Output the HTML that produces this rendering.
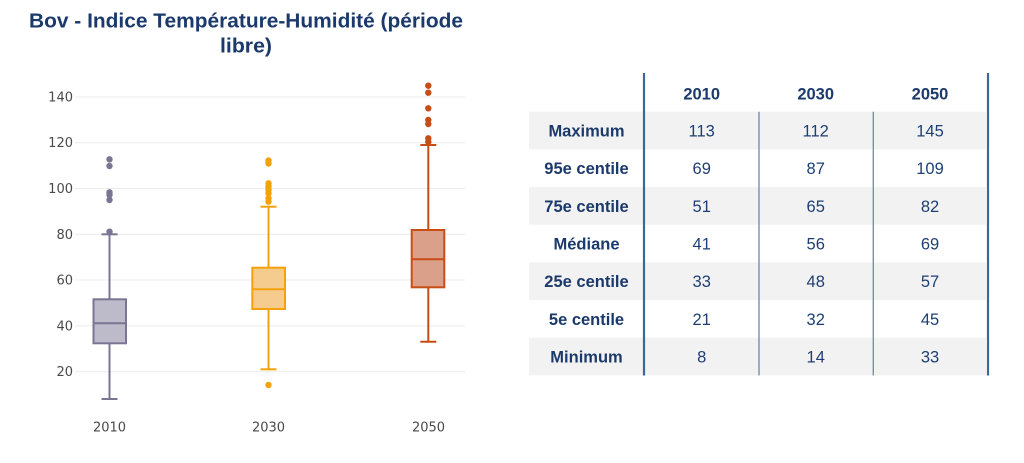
<!DOCTYPE html>
<html><head><meta charset="utf-8"><style>
html,body{margin:0;padding:0;background:#fff;}
svg{display:block;}
.t{font-family:"Liberation Sans",sans-serif;font-weight:bold;fill:#1b3a6b;}
.ax{font-family:"DejaVu Sans","Liberation Sans",sans-serif;font-size:13px;fill:#4a4a4a;}
.lb{font-family:"Liberation Sans",sans-serif;font-weight:bold;font-size:16.5px;fill:#1b3a6b;}
.vl{font-family:"Liberation Sans",sans-serif;font-size:16.5px;fill:#1e3f73;}
</style></head><body>
<svg width="1024" height="463" viewBox="0 0 1024 463" xmlns="http://www.w3.org/2000/svg">
<rect width="1024" height="463" fill="#fff"/>
<!-- Title -->
<text class="t" x="246" y="27.5" font-size="20" text-anchor="middle" textLength="434" lengthAdjust="spacingAndGlyphs">Bov - Indice Température-Humidité (période</text>
<text class="t" x="246" y="52.5" font-size="20" text-anchor="middle" textLength="52" lengthAdjust="spacingAndGlyphs">libre)</text>
<!-- gridlines -->
<g stroke="#ececec" stroke-width="1">
<line x1="75" x2="465" y1="97" y2="97"/>
<line x1="75" x2="465" y1="142.7" y2="142.7"/>
<line x1="75" x2="465" y1="188.5" y2="188.5"/>
<line x1="75" x2="465" y1="234.3" y2="234.3"/>
<line x1="75" x2="465" y1="280" y2="280"/>
<line x1="75" x2="465" y1="325.9" y2="325.9"/>
<line x1="75" x2="465" y1="371.7" y2="371.7"/>
</g>
<g class="ax" text-anchor="end">
<text x="73" y="101.5">140</text>
<text x="73" y="147.2">120</text>
<text x="73" y="193">100</text>
<text x="73" y="238.8">80</text>
<text x="73" y="284.5">60</text>
<text x="73" y="330.4">40</text>
<text x="73" y="376.2">20</text>
</g>
<g class="ax" text-anchor="middle">
<text x="109.5" y="431.5">2010</text>
<text x="268.5" y="431.5">2030</text>
<text x="428.5" y="431.5">2050</text>
</g>
<!-- 2010 -->
<g stroke="#7b7593" stroke-width="2" fill="none">
<line x1="109.5" x2="109.5" y1="234.3" y2="299.3"/>
<line x1="109.5" x2="109.5" y1="343.3" y2="399"/>
<line x1="101.5" x2="117.5" y1="234.3" y2="234.3"/>
<line x1="101.5" x2="117.5" y1="399" y2="399"/>
<rect x="93.5" y="299.3" width="32.5" height="44" fill="#bdbbc9"/>
<line x1="93.5" x2="126" y1="323.3" y2="323.3"/>
</g>
<g fill="#7b7593">
<circle cx="109.5" cy="159.3" r="3.2"/><circle cx="109.5" cy="166" r="3.2"/>
<circle cx="109.5" cy="192.3" r="3.2"/><circle cx="109.5" cy="195" r="3.2"/><circle cx="109.5" cy="200" r="3.2"/>
<circle cx="109.5" cy="231.7" r="3.2"/>
</g>
<!-- 2030 -->
<g stroke="#f4a20c" stroke-width="2" fill="none">
<line x1="268.5" x2="268.5" y1="206.7" y2="267.7"/>
<line x1="268.5" x2="268.5" y1="309" y2="369.3"/>
<line x1="260.5" x2="276.5" y1="206.7" y2="206.7"/>
<line x1="260.5" x2="276.5" y1="369.3" y2="369.3"/>
<rect x="252.3" y="267.7" width="32.7" height="41.3" fill="#f6cb8e"/>
<line x1="252.3" x2="285" y1="289.3" y2="289.3"/>
</g>
<g fill="#f4a20c">
<circle cx="268.5" cy="160.5" r="3.2"/><circle cx="268.5" cy="163.5" r="3.2"/>
<circle cx="268.5" cy="183.3" r="3.2"/><circle cx="268.5" cy="186.7" r="3.2"/><circle cx="268.5" cy="190" r="3.2"/>
<circle cx="268.5" cy="193.3" r="3.2"/><circle cx="268.5" cy="198.3" r="3.2"/><circle cx="268.5" cy="201.7" r="3.2"/>
<circle cx="268.5" cy="385" r="3.2"/>
</g>
<!-- 2050 -->
<g stroke="#c74d14" stroke-width="2" fill="none">
<line x1="428.3" x2="428.3" y1="145" y2="230"/>
<line x1="428.3" x2="428.3" y1="287.3" y2="341.7"/>
<line x1="420.3" x2="436.3" y1="145" y2="145"/>
<line x1="420.3" x2="436.3" y1="341.7" y2="341.7"/>
<rect x="411.7" y="230" width="32.6" height="57.3" fill="#daa08a"/>
<line x1="411.7" x2="444.3" y1="259.3" y2="259.3"/>
</g>
<g fill="#c74d14">
<circle cx="428.3" cy="85.7" r="3.2"/><circle cx="428.3" cy="92.7" r="3.2"/>
<circle cx="428.3" cy="108.3" r="3.2"/><circle cx="428.3" cy="120" r="3.2"/><circle cx="428.3" cy="124" r="3.2"/>
<circle cx="428.3" cy="138.3" r="3.2"/><circle cx="428.3" cy="142" r="3.2"/>
</g>
<!-- Table -->
<g fill="#f2f2f2">
<rect x="529" y="111.7" width="457" height="37.6"/>
<rect x="529" y="187" width="457" height="37.7"/>
<rect x="529" y="262.3" width="457" height="37.7"/>
<rect x="529" y="337.7" width="457" height="37.6"/>
</g>
<line x1="644" x2="644" y1="73" y2="375.5" stroke="#3d6893" stroke-width="2.2"/>
<line x1="988" x2="988" y1="73" y2="375.5" stroke="#3d6893" stroke-width="2.2"/>
<line x1="759" x2="759" y1="111.7" y2="375.5" stroke="#6f93b8" stroke-width="1.4"/>
<line x1="873.3" x2="873.3" y1="111.7" y2="375.5" stroke="#6f93b8" stroke-width="1.4"/>
<g class="lb" text-anchor="middle">
<text x="701.7" y="99.5">2010</text>
<text x="815.7" y="99.5">2030</text>
<text x="930" y="99.5">2050</text>
<text x="586.5" y="136.5">Maximum</text>
<text x="586.5" y="174.2">95e centile</text>
<text x="586.5" y="211.8">75e centile</text>
<text x="586.5" y="249.5">Médiane</text>
<text x="586.5" y="287.2">25e centile</text>
<text x="586.5" y="324.8">5e centile</text>
<text x="586.5" y="362.5">Minimum</text>
</g>
<g class="vl" text-anchor="middle">
<text x="701.7" y="136.5">113</text><text x="815.7" y="136.5">112</text><text x="930" y="136.5">145</text>
<text x="701.7" y="174.2">69</text><text x="815.7" y="174.2">87</text><text x="930" y="174.2">109</text>
<text x="701.7" y="211.8">51</text><text x="815.7" y="211.8">65</text><text x="930" y="211.8">82</text>
<text x="701.7" y="249.5">41</text><text x="815.7" y="249.5">56</text><text x="930" y="249.5">69</text>
<text x="701.7" y="287.2">33</text><text x="815.7" y="287.2">48</text><text x="930" y="287.2">57</text>
<text x="701.7" y="324.8">21</text><text x="815.7" y="324.8">32</text><text x="930" y="324.8">45</text>
<text x="701.7" y="362.5">8</text><text x="815.7" y="362.5">14</text><text x="930" y="362.5">33</text>
</g>
</svg>
</body></html>
